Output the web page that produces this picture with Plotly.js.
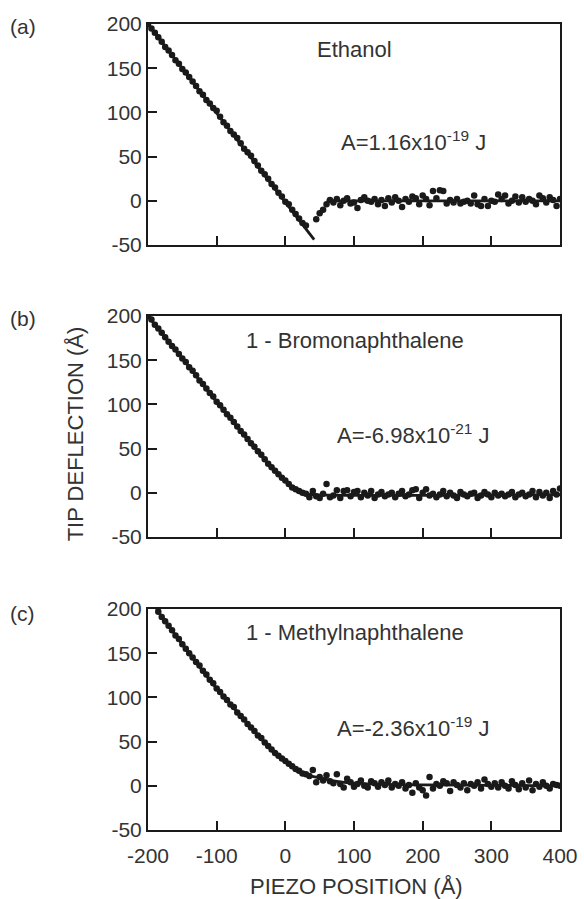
<!DOCTYPE html>
<html>
<head>
<meta charset="utf-8">
<script src="https://cdn.plot.ly/plotly-3.0.1.min.js"></script>
<style>html,body{margin:0;padding:0;background:#fff;}#chart{width:584px;height:899px;}</style>
</head>
<body>
<div id="chart"></div>
<script>
// ---------- data ----------
const panelLabels = ["(a)", "(b)", "(c)"];
const liquidNames = ["Ethanol", "1 - Bromonaphthalene", "1 - Methylnaphthalene"];
const hamakerTexts = ["A=1.16x10<sup>-19</sup> J", "A=-6.98x10<sup>-21</sup> J", "A=-2.36x10<sup>-19</sup> J"];
const xTitle = "PIEZO POSITION (Å)";
const yTitle = "TIP DEFLECTION (Å)";
const xTickVals = [-200, -100, 0, 100, 200, 300, 400];
const xTickText = ["-200", "-100", "0", "100", "200", "300", "400"];
const yTickVals = [-50, 0, 50, 100, 150, 200];
const yTickText = ["-50", "0", "50", "100", "150", "200"];

// (a) Ethanol
const aPointsX = [-200,-195,-190,-185,-180,-175,-170,-165,-160,-155,-150,-145,-140,-135,-130,-125,-120,-115,-110,-105,-100,-95,-90,-85,-80,-75,-70,-65,-60,-55,-50,-45,-40,-35,-30,-25,-20,-15,-10,-5,0,5,10,15,20,25,30,
  45,50,55,60,65,
  70,75,80,85,90,95,100,105,110,115,120,125,130,135,140,145,150,155,160,165,170,175,180,185,190,195,200,205,210,215,220,225,230,235,240,245,250,255,260,265,270,275,280,285,290,295,300,305,310,315,320,325,330,335,340,345,350,355,360,365,370,375,380,385,390,395,400];
const aPointsY = [200,195,190,185,180,174,170,165,159,155,149,145,140,135,130,124,120,114,110,105,102,95,89,85,79,75,71,65,59,55,51,45,40,34,30,25,19,15,9,5,-1,-4,-10,-15,-20,-25,-28,
  -21,-14,-10,-4,1,
  -2,2,-5,0,3,-3,-2,-8,1,4,0,-1,2,-4,1,-6,3,-2,4,0,-7,2,-1,5,3,-4,6,2,-5,11,3,12,11,-3,1,-2,2,-3,-1,0,-3,6,-4,-6,2,-6,0,-1,7,2,6,-3,0,5,-2,4,-1,2,0,-4,6,3,-2,4,1,-6,2];
const aFitApproachX = [-200, 42];
const aFitApproachY = [200, -44];
const aFitFlatX = [60, 400];
const aFitFlatY = [0, 0];

// (b) 1-Bromonaphthalene
const bPointsX = [-200,-195,-190,-185,-180,-175,-170,-165,-160,-155,-150,-145,-140,-135,-130,-125,-120,-115,-110,-105,-100,-95,-90,-85,-80,-75,-70,-65,-60,-55,-50,-45,-40,-35,-30,-25,-20,-15,-10,-5,0,5,10,15,20,25,
  30,35,40,45,50,55,60,65,70,75,80,85,90,95,100,105,110,115,120,125,130,135,140,145,150,155,160,165,170,175,180,185,190,195,200,205,210,215,220,225,230,235,240,245,250,255,260,265,270,275,280,285,290,295,300,305,310,315,320,325,330,335,340,345,350,355,360,365,370,375,380,385,390,395,400];
const bPointsY = [200,196,190,186,181,176,171,166,162,157,152,148,142,138,133,127,123,118,113,109,103,99,94,89,85,80,75,70,66,61,56,52,47,43,38,33,29,25,21,17,14,10,6,4,2,0,
  -1,-5,2,-4,-6,-1,10,-5,-3,3,-6,2,3,-4,1,2,-5,0,-3,2,-6,-2,1,-4,-2,0,-5,-1,2,-4,-2,3,4,-6,0,4,-3,-1,-5,-2,2,-4,0,-3,-6,1,-2,-4,-1,0,-6,-3,1,-2,-5,0,-3,-1,-4,-2,1,-5,-2,0,-4,-2,2,-5,1,-3,0,-6,2,-2,5];
const bFitX = [-200, -150, -100, -50, -25, 0, 10, 20, 30, 40, 400];
const bFitY = [200, 152, 103, 56, 33, 14, 7, 2, -1, -2, -2];

// (c) 1-Methylnaphthalene
const cPointsX = [-185,-180,-175,-170,-165,-160,-155,-150,-145,-140,-135,-130,-125,-120,-115,-110,-105,-100,-95,-90,-85,-80,-75,-70,-65,-60,-55,-50,-45,-40,-35,-30,-25,-20,-15,-10,-5,0,5,10,15,20,25,30,35,
  40,45,50,55,60,65,70,75,80,85,90,95,100,105,110,115,120,125,130,135,140,145,150,155,160,165,170,175,180,185,190,195,200,205,210,215,220,225,230,235,240,245,250,255,260,265,270,275,280,285,290,295,300,305,310,315,320,325,330,335,340,345,350,355,360,365,370,375,380,385,390,395,400];
const cPointsY = [197,191,186,181,176,170,166,160,155,150,145,140,136,130,126,120,116,110,106,101,97,92,89,83,79,75,70,66,62,57,54,49,45,41,37,34,31,28,25,22,19,17,14,13,11,
  18,4,10,6,12,5,3,13,2,-2,8,4,-1,2,6,0,-2,5,3,-1,4,1,6,-2,2,0,4,-3,1,-8,3,-2,-5,-11,10,-3,2,0,5,3,-6,4,1,-2,3,-5,2,0,4,-3,7,2,-1,3,-2,4,0,-3,5,1,-4,3,-2,6,-5,2,-1,4,0,-3,2,1,0];
const cFitX = [-188, -150, -100, -75, -50, -25, 0, 25, 50, 75, 100, 150, 200, 300, 400];
const cFitY = [200, 160, 110, 88, 66, 45, 28, 14, 9, 5, 3, 1.5, 1, 0.5, 0];

// ---------- styling ----------
const FONT = "Liberation Sans, Arial, Helvetica, sans-serif";
const TXT = "#333333";
const INK = "#1a1a1a";

function dots(x, y, xa, ya) {
  return {x: x, y: y, xaxis: xa, yaxis: ya, type: "scatter", mode: "markers",
          marker: {size: 6.5, color: INK}, showlegend: false, hoverinfo: "skip"};
}
function fit(x, y, xa, ya, shape) {
  return {x: x, y: y, xaxis: xa, yaxis: ya, type: "scatter", mode: "lines",
          line: {color: INK, width: 2.8, shape: shape || "linear"}, showlegend: false, hoverinfo: "skip"};
}

const traces = [
  dots(aPointsX, aPointsY, "x", "y"),
  fit(aFitApproachX, aFitApproachY, "x", "y"),
  fit(aFitFlatX, aFitFlatY, "x", "y"),
  dots(bPointsX, bPointsY, "x2", "y2"),
  fit(bFitX, bFitY, "x2", "y2", "spline"),
  dots(cPointsX, cPointsY, "x3", "y3"),
  fit(cFitX, cFitY, "x3", "y3", "spline")
];

function xAxis(anchor, showLabels) {
  return {anchor: anchor, domain: [0, 1], range: [-200, 400], tickvals: xTickVals, ticktext: xTickText,
          showticklabels: showLabels, ticks: "inside", ticklen: 9, tickwidth: 2, tickcolor: INK,
          ticklabelstandoff: 6,
          showline: true, mirror: true, linewidth: 2, linecolor: INK,
          showgrid: false, zeroline: false, tickfont: {family: FONT, size: 21, color: TXT}};
}
function yAxis(anchor, domain) {
  return {anchor: anchor, domain: domain, range: [-50, 200], tickvals: yTickVals, ticktext: yTickText,
          ticks: "inside", ticklen: 9, tickwidth: 2, tickcolor: INK,
          showline: true, mirror: true, linewidth: 2, linecolor: INK,
          showgrid: false, zeroline: false, tickfont: {family: FONT, size: 21, color: TXT}};
}

const annFont = {family: FONT, size: 22, color: TXT};
const annotations = [];
const panelY = [0.9975, 0.634, 0.268];
const axesX = ["x", "x2", "x3"];
const axesY = ["y", "y2", "y3"];
const nameY = [171, 172, 173];
const hamY = [68, 67, 66];
for (let i = 0; i < 3; i++) {
  annotations.push({text: panelLabels[i], xref: "paper", yref: "paper", x: -0.34, y: panelY[i],
                    xanchor: "left", yanchor: "middle", showarrow: false, font: {family: FONT, size: 21, color: TXT}});
  annotations.push({text: liquidNames[i], xref: axesX[i], yref: axesY[i], x: 101, y: nameY[i],
                    xanchor: "center", yanchor: "middle", showarrow: false, font: annFont});
  annotations.push({text: hamakerTexts[i], xref: axesX[i], yref: axesY[i], x: 187, y: hamY[i],
                    xanchor: "center", yanchor: "middle", showarrow: false, font: annFont});
}
annotations.push({text: yTitle, xref: "paper", yref: "paper", x: -0.177, y: 0.491, textangle: -90,
                  xanchor: "center", yanchor: "middle", showarrow: false, font: annFont});
annotations.push({text: xTitle, xref: "paper", yref: "paper", x: 0.507, y: -0.0695,
                  xanchor: "center", yanchor: "middle", showarrow: false, font: annFont});

const layout = {
  width: 584, height: 899,
  margin: {l: 148, r: 24, t: 24, b: 69},
  paper_bgcolor: "#ffffff", plot_bgcolor: "#ffffff",
  showlegend: false,
  xaxis: xAxis("y", false),
  yaxis: yAxis("x", [0.7258, 1.0]),
  xaxis2: xAxis("y2", false),
  yaxis2: yAxis("x2", [0.3635, 0.6377]),
  xaxis3: xAxis("y3", true),
  yaxis3: yAxis("x3", [0.0, 0.2742]),
  annotations: annotations,
  font: {family: FONT, color: TXT}
};

Plotly.newPlot("chart", traces, layout, {displayModeBar: false, staticPlot: true});
</script>
</body>
</html>
